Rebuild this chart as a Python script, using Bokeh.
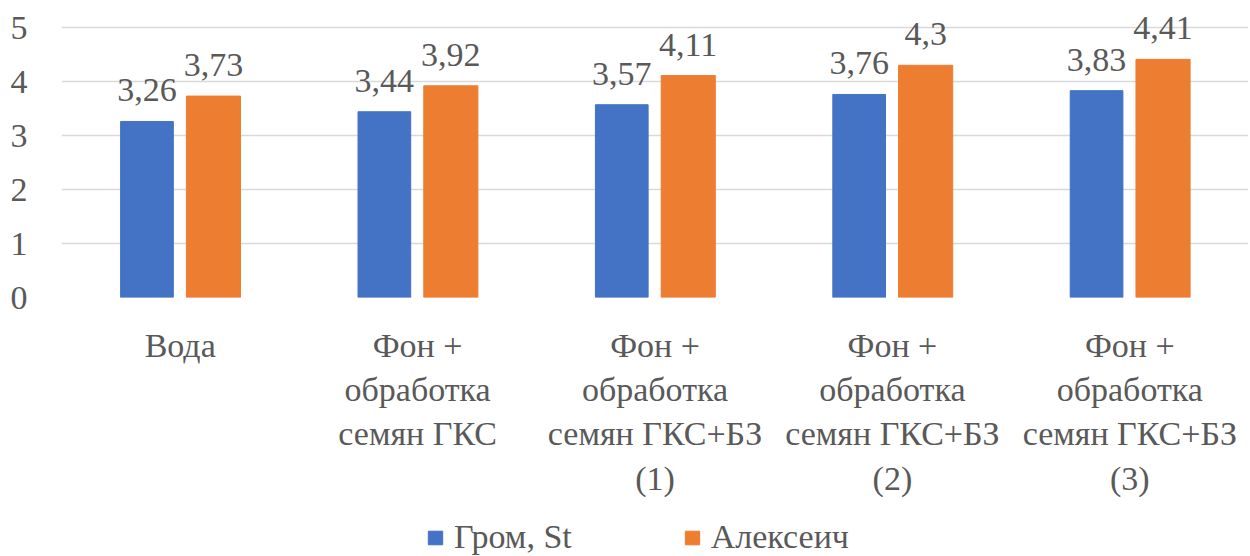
from bokeh.plotting import figure
from bokeh.models import ColumnDataSource, Legend, LegendItem, FactorRange
from bokeh.layouts import column
from bokeh.transform import dodge
from bokeh.core.properties import value
from bokeh.embed import file_html
from bokeh.resources import INLINE

categories = ["Вода",
              "Фон +\nобработка\nсемян ГКС",
              "Фон +\nобработка\nсемян ГКС+БЗ\n(1)",
              "Фон +\nобработка\nсемян ГКС+БЗ\n(2)",
              "Фон +\nобработка\nсемян ГКС+БЗ\n(3)"]
grom = [3.26, 3.44, 3.57, 3.76, 3.83]
alekseich = [3.73, 3.92, 4.11, 4.30, 4.41]
series_names = ["Гром, St", "Алексеич"]
y_ticks = [0, 1, 2, 3, 4, 5]
colors = ["#4472C4", "#ED7D31"]

def fmt(v):
    s = ("%.2f" % v).rstrip("0").rstrip(".")
    return s.replace(".", ",")

src = ColumnDataSource(dict(
    cat=categories, grom=grom, alek=alekseich,
    grom_lbl=[fmt(v) for v in grom], alek_lbl=[fmt(v) for v in alekseich]))

FONT = "Liberation Serif"
TXT = "#595959"
W = 1248
MAIN_H = 500

# frame spans the full height above the baseline, so value labels above 5 are not clipped
p = figure(x_range=FactorRange(*categories), y_range=(0, 5.5),
           width=W, height=MAIN_H, output_backend="svg", toolbar_location=None,
           min_border_left=61, min_border_right=0, min_border_top=0,
           min_border_bottom=MAIN_H - 297)
p.outline_line_color = None

p.vbar(x=dodge("cat", -0.14, range=p.x_range), top="grom", width=0.222, source=src,
       color=colors[0])
p.vbar(x=dodge("cat", 0.14, range=p.x_range), top="alek", width=0.228, source=src,
       color=colors[1])

p.text(x=dodge("cat", -0.14, range=p.x_range), y="grom", text="grom_lbl", source=src,
       text_align="center", text_baseline="alphabetic", y_offset=-31,
       text_font=value(FONT), text_font_size="34px", text_color=TXT)
p.text(x=dodge("cat", 0.14, range=p.x_range), y="alek", text="alek_lbl", source=src,
       text_align="center", text_baseline="alphabetic", y_offset=-31,
       text_font=value(FONT), text_font_size="34px", text_color=TXT)

p.yaxis.ticker = y_ticks
p.ygrid.grid_line_color = "#D9D9D9"
p.ygrid.grid_line_width = 1.5
p.xgrid.grid_line_color = None
for ax in (p.xaxis[0], p.yaxis[0]):
    ax.axis_line_color = None
    ax.major_tick_line_color = None
    ax.minor_tick_line_color = None
    ax.major_label_text_font = FONT
    ax.major_label_text_font_size = "34px"
    ax.major_label_text_color = TXT
p.yaxis.major_label_standoff = 28
p.xaxis.major_label_standoff = 23
p.xaxis.major_label_orientation = "horizontal"

# legend strip below the chart
lg = figure(x_range=p.x_range, y_range=(100, 101), width=W, height=556 - MAIN_H,
            output_backend="svg", toolbar_location=None,
            min_border_left=61, min_border_right=0, min_border_top=0, min_border_bottom=0)
lg.outline_line_color = None
lg.axis.visible = False
lg.grid.visible = False
r1 = lg.vbar(x=dodge("cat", -0.14, range=lg.x_range), top="grom", width=0.222, source=src,
             color=colors[0])
r2 = lg.vbar(x=dodge("cat", 0.14, range=lg.x_range), top="alek", width=0.228, source=src,
             color=colors[1])
legend = Legend(items=[LegendItem(label=series_names[0], renderers=[r1]),
                       LegendItem(label=series_names[1], renderers=[r2])],
                orientation="horizontal", location=(365, 0),
                glyph_width=18, glyph_height=17, spacing=111, padding=0, margin=0,
                label_text_font=FONT, label_text_font_size="34px", label_text_color=TXT,
                label_standoff=10, border_line_color=None, background_fill_alpha=0)
lg.add_layout(legend, "center")

layout = column(p, lg, spacing=0)
open("out.html", "w").write(file_html(layout, INLINE))
